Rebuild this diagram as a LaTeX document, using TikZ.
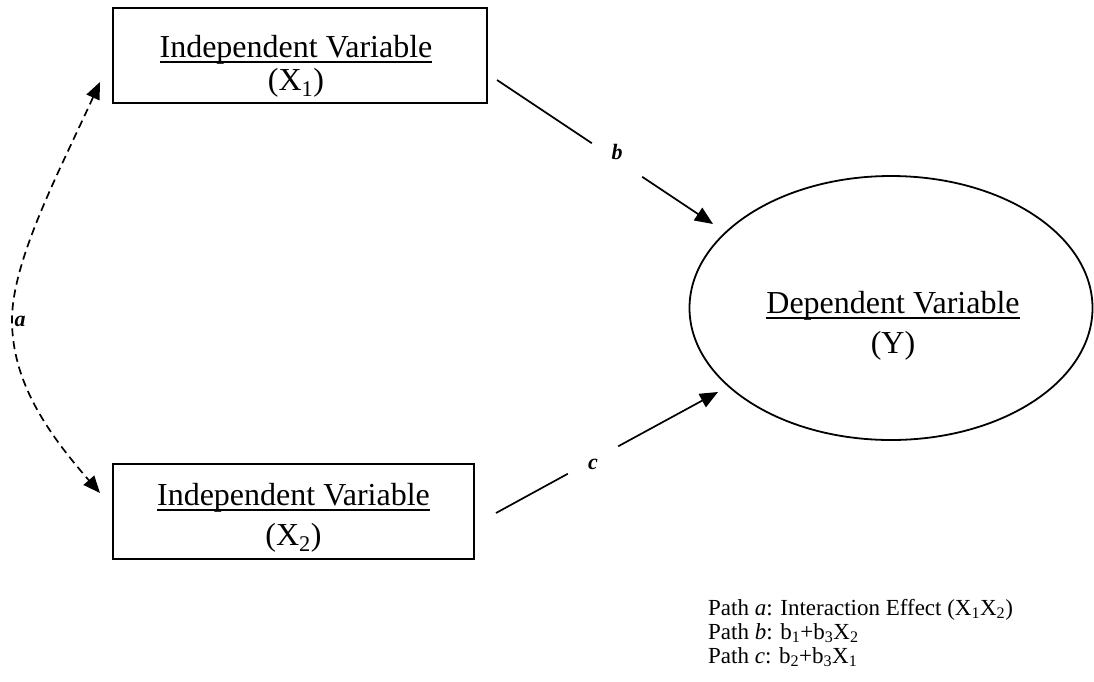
\documentclass[tikz,border=0pt]{standalone}
\usepackage{fontspec}
\setmainfont{Liberation Serif}
\usetikzlibrary{arrows.meta,shapes.geometric}
\newcommand\myul[1]{\setbox0\hbox{#1}\rlap{\rule[-6pt]{\wd0}{1.6pt}}\box0}
\begin{document}
\begin{tikzpicture}[x=1pt,y=-1pt,
  box/.style={draw, line width=1.8pt, minimum height=95pt, inner sep=0pt},
  big/.style={font=\fontsize{32}{37}\selectfont, inner sep=0pt, anchor=base},
  lab/.style={font=\fontsize{22}{26}\selectfont\bfseries\itshape, inner sep=0pt},
  gapb/.style={minimum width=50pt, minimum height=34pt, inner sep=0pt, font=\fontsize{22}{26}\selectfont\bfseries\itshape},
  gapc/.style={minimum width=50pt, minimum height=28pt, inner sep=0pt, font=\fontsize{22}{26}\selectfont\bfseries\itshape},
  leg/.style={font=\fontsize{23}{24}\selectfont, anchor=base west, inner sep=0pt},
  plain/.style={line width=1.7pt},
  conn/.style={line width=1.7pt, -{Triangle[length=18pt,width=15pt]}},
  dconn/.style={line width=1.7pt, dash pattern=on 8pt off 5pt, {Triangle[length=17pt,width=14pt]}-{Triangle[length=17pt,width=14pt]}},
]
\useasboundingbox (0,0) rectangle (1094,681);

% independent variable X1
\node[box, minimum width=374pt] (x1) at (300,55.5) {};
\node[big] (x1t) at (296,57) {\myul{Independent Variable}};
\node[big] (x1s) at (296,90) {(X\textsubscript{1})};

% independent variable X2
\node[box, minimum width=361pt] (x2) at (293.5,511.5) {};
\node[big] (x2t) at (293.5,505) {\myul{Independent Variable}};
\node[big] (x2s) at (293.5,545) {(X\textsubscript{2})};

% dependent variable
\node[draw, ellipse, line width=1.8pt, minimum width=403pt, minimum height=264pt, inner sep=0pt, outer sep=0pt] (y) at (891,308) {};
\node[big] (yt) at (893,313) {\myul{Dependent Variable}};
\node[big] (ys) at (893,353) {(Y)};

% path b
\coordinate (bs) at (497,80);
\coordinate (be) at (713,224);
\node[gapb] (lb) at (617,160) {\raisebox{1pt}[0pt][0pt]{b}};
\draw[plain] (bs) -- (lb);
\draw[conn] (lb) -- (be);

% path c
\coordinate (cs) at (496,513);
\coordinate (ce) at (718,392);
\node[gapc] (lc) at (593,460) {\raisebox{-9.5pt}[0pt][0pt]{c}};
\draw[plain] (cs) -- (lc);
\draw[conn] (lc) -- (ce);

% path a
\coordinate (at) at (100,82);
\coordinate (am) at (12,320);
\coordinate (ab) at (100,493);
\draw[dconn] (at) .. controls (60,170) and (12,260) .. (am) .. controls (12,380) and (45,430) .. (ab);
\node[lab] (la) at (20,321) {a};

% legend
\node[leg] (l1) at (708,615) {Path \textit{a}: Interaction Effect (X\textsubscript{1}X\textsubscript{2})};
\node[leg] (l2) at (708,639) {Path \textit{b}: b\textsubscript{1}+b\textsubscript{3}X\textsubscript{2}};
\node[leg] (l3) at (708,663) {Path \textit{c}: b\textsubscript{2}+b\textsubscript{3}X\textsubscript{1}};
\end{tikzpicture}
\end{document}
